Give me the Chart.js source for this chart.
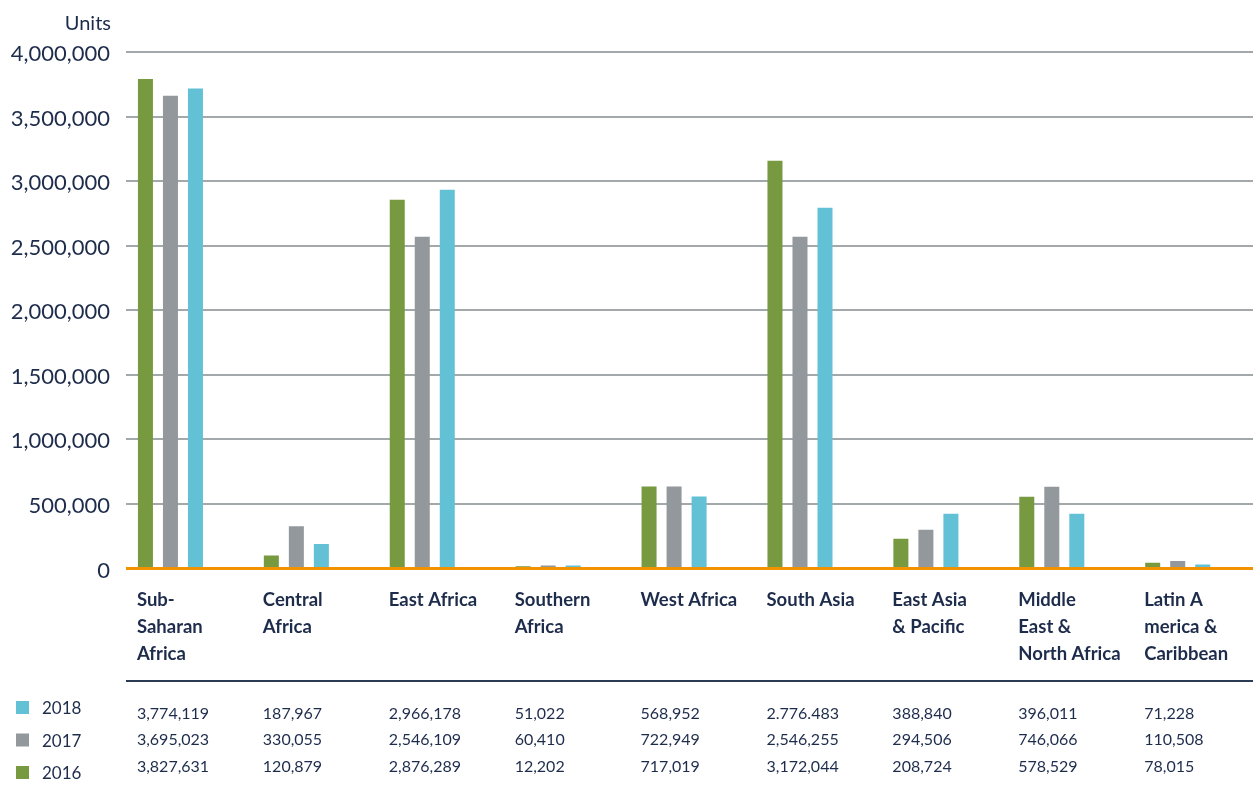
<!DOCTYPE html>
<html>
<head>
<meta charset="utf-8">
<script src="https://cdn.jsdelivr.net/npm/chart.js@4.4.1/dist/chart.umd.min.js"></script>
<style>
  body { margin: 0; background: #fff; }
  #wrap { width: 1253px; height: 787px; }
</style>
</head>
<body>
<div id="wrap"><canvas id="myChart" width="1253" height="787"></canvas></div>
<script>
// region names, split as they wrap in the table header
var categories = [
	["Sub-", "Saharan", "Africa"],
	["Central", "Africa"],
	["East Africa"],
	["Southern", "Africa"],
	["West Africa"],
	["South Asia"],
	["East Asia", "& Pacific"],
	["Middle", "East &", "North Africa"],
	["Latin A", "merica &", "Caribbean"]
];
var years = ["2016", "2017", "2018"];
var barColors = ["#77993f", "#92989b", "#63c1d5"];

// bar heights as drawn
var values2016 = [3790000, 100000, 2855000, 17000, 635000, 3157000, 231000, 555000, 45000];
var values2017 = [3661000, 328000, 2570000, 24000, 635000, 2570000, 300000, 633000, 59000];
var values2018 = [3718000, 190000, 2933000, 24000, 557000, 2794000, 424000, 424000, 31000];

// figures printed in the table under the chart
var table2018 = ["3,774,119", "187,967", "2,966,178", "51,022", "568,952", "2.776.483", "388,840", "396,011", "71,228"];
var table2017 = ["3,695,023", "330,055", "2,546,109", "60,410", "722,949", "2,546,255", "294,506", "746,066", "110,508"];
var table2016 = ["3,827,631", "120,879", "2,876,289", "12,202", "717,019", "3,172,044", "208,724", "578,529", "78,015"];

var yTicks = [0, 500000, 1000000, 1500000, 2000000, 2500000, 3000000, 3500000, 4000000];

var navy = "#1e2c4c";
var fontName = "Lato";

function points(arr) {
	return arr.map(function(v, i) { return { x: i, y: v }; });
}

var tablePlugin = {
	id: "regionTable",
	afterDraw: function(chart) {
		var ctx = chart.ctx;
		var area = chart.chartArea;
		var meta = chart.getDatasetMeta(0);
		ctx.save();
		ctx.fillStyle = navy;
		ctx.textBaseline = "alphabetic";

		// "Units" caption
		ctx.textAlign = "right";
		ctx.font = "20px " + fontName;
		ctx.fillText("Units", 111, 30);

		ctx.textAlign = "left";
		var rows = [table2018, table2017, table2016];
		meta.data.forEach(function(bar, i) {
			var left = bar.x - bar.width / 2 - 1;
			ctx.font = "bold 18.5px " + fontName;
			categories[i].forEach(function(line, k) {
				ctx.fillText(line, left, area.bottom + 37 + k * 27);
			});
			ctx.font = "16px " + fontName;
			rows.forEach(function(row, r) {
				ctx.fillText(row[i], left, area.bottom + 150 + r * 26.7);
			});
		});

		// separator line
		ctx.strokeStyle = "#2b3a55";
		ctx.lineWidth = 2;
		ctx.beginPath();
		ctx.moveTo(area.left, area.bottom + 112.5);
		ctx.lineTo(area.right, area.bottom + 112.5);
		ctx.stroke();

		// legend, newest year on top
		ctx.font = "17px " + fontName;
		for (var j = 2; j >= 0; j--) {
			var y = area.bottom + 132.5 + (2 - j) * 32.5;
			ctx.fillStyle = barColors[j];
			ctx.fillRect(16, y, 13, 13);
			ctx.fillStyle = navy;
			ctx.fillText(years[j], 42, y + 13);
		}
		ctx.restore();
	}
};

new Chart("myChart", {
	type: "bar",
	data: {
		datasets: [
			{ label: years[0], data: points(values2016), backgroundColor: barColors[0] },
			{ label: years[1], data: points(values2017), backgroundColor: barColors[1] },
			{ label: years[2], data: points(values2018), backgroundColor: barColors[2] }
		]
	},
	options: {
		responsive: false,
		animation: false,
		events: [],
		categoryPercentage: 0.596,
		barPercentage: 0.6,
		layout: { padding: { top: 52, bottom: 218.5, left: 0, right: 0 } },
		plugins: {
			legend: { display: false },
			tooltip: { enabled: false }
		},
		scales: {
			x: {
				type: "linear",
				display: false,
				offset: false,
				min: -0.353,
				max: 8.598,
				afterBuildTicks: function(scale) {
					scale.ticks = categories.map(function(c, i) { return { value: i }; });
				}
			},
			y: {
				min: 0,
				max: 4000000,
				afterFit: function(scale) { scale.width = 126; },
				afterBuildTicks: function(scale) {
					scale.ticks = yTicks.map(function(v) { return { value: v }; });
				},
				border: { display: false },
				grid: {
					drawTicks: false,
					color: function(c) { return c.tick && c.tick.value === 0 ? "#f39200" : "#a3a8ab"; },
					lineWidth: function(c) { return c.tick && c.tick.value === 0 ? 3 : 2; }
				},
				ticks: {
					padding: 16,
					labelOffset: 2,
					color: navy,
					font: { family: fontName, size: 22 },
					callback: function(v) { return Number(v).toLocaleString("en-US"); }
				}
			}
		}
	},
	plugins: [tablePlugin]
});
</script>
</body>
</html>
